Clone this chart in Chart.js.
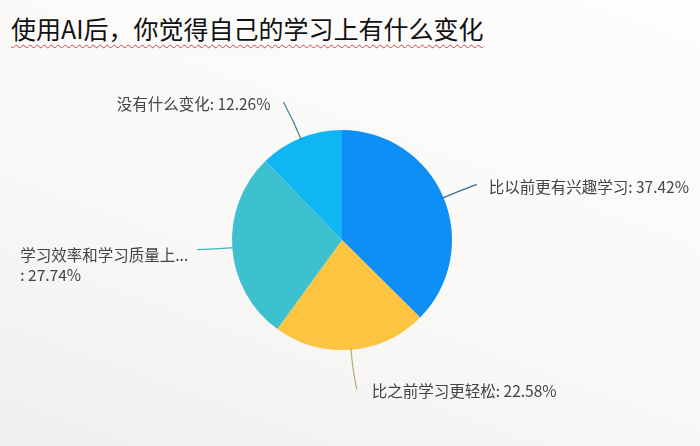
<!DOCTYPE html>
<html>
<head>
  <meta charset="UTF-8">
  <title>学习变化</title>
  <script src="https://cdn.jsdelivr.net/npm/chart.js@4.4.0/dist/chart.umd.min.js"></script>
</head>
<style>
  html, body { margin: 0; padding: 0; }
  body {
    width: 700px; height: 446px; overflow: hidden; position: relative;
    background: linear-gradient(200deg, #fdfdfc 0%, #f9f8f6 60%, #efefee 100%);
  }
  #title {
    position: absolute; left: 11px; top: 10px;
    font-family: "Noto Sans CJK SC", sans-serif; font-size: 25px; color: #111;
    text-decoration: underline wavy #d04040; text-decoration-thickness: 1px;
    text-underline-offset: 5px; letter-spacing: 0px; white-space: nowrap;
  }
  #wrap { position: absolute; left: 0; top: 0; width: 700px; height: 446px; }
</style>
<body>
  <div id="title">使用AI后，你觉得自己的学习上有什么变化</div>
  <div id="wrap"><canvas id="myChart"></canvas></div>

<script type="text/javascript">
  var categories = ['比以前更有兴趣学习', '比之前学习更轻松', '学习效率和学习质量上...', '没有什么变化'];
  var percents = [37.42, 22.58, 27.74, 12.26];

  var sliceColors = ['#0d8ff5', '#fcc440', '#3ec1cf', '#10b6f3'];
  var lineColors = ['#3a6a95', '#b8b070', '#3ab8c6', '#3d7f95'];
  // line end relative to the slice edge, then text offset from the line end
  var lineEnds = [[35, -14], [6, 42], [-37, 2], [-18, -38]];
  var textOffsets = [[12, 3], [15, 1], [-177, 5], [-13, 2]];
  var textAligns = ['left', 'left', 'left', 'right'];

  var labelPlugin = {
    id: 'pieLabels',
    afterDraw: function (chart) {
      var ctx = chart.ctx;
      var arcs = chart.getDatasetMeta(0).data;
      ctx.save();
      ctx.font = '15.5px "Noto Sans CJK SC", sans-serif';
      ctx.textBaseline = 'middle';
      for (var i = 0; i < arcs.length; i++) {
        var a = arcs[i];
        var mid = (a.startAngle + a.endAngle) / 2;
        var sx = a.x + Math.cos(mid) * (a.outerRadius - 2);
        var sy = a.y + Math.sin(mid) * (a.outerRadius - 2);
        var ex = sx + lineEnds[i][0];
        var ey = sy + lineEnds[i][1];
        var cx = a.x + Math.cos(mid) * (a.outerRadius + 18);
        var cy = a.y + Math.sin(mid) * (a.outerRadius + 18);
        ctx.strokeStyle = lineColors[i];
        ctx.lineWidth = 1.2;
        ctx.beginPath();
        ctx.moveTo(sx, sy);
        ctx.quadraticCurveTo(cx, cy, ex, ey);
        ctx.stroke();

        ctx.fillStyle = '#444444';
        ctx.textAlign = textAligns[i];
        var tx = ex + textOffsets[i][0];
        var ty = ey + textOffsets[i][1];
        var pct = percents[i].toFixed(2) + '%';
        if (i === 2) {
          ctx.fillText(categories[i], tx, ty);
          ctx.fillText(': ' + pct, tx, ty + 20);
        } else {
          ctx.fillText(categories[i] + ': ' + pct, tx, ty);
        }
      }
      ctx.restore();
    }
  };

  var myChart = new Chart(document.getElementById('myChart'), {
    type: 'pie',
    data: {
      labels: categories,
      datasets: [{
        data: percents,
        backgroundColor: sliceColors,
        borderWidth: 0
      }]
    },
    options: {
      responsive: true,
      maintainAspectRatio: false,
      animation: false,
      layout: { padding: { top: 130, bottom: 96, left: 232, right: 248 } },
      plugins: {
        legend: { display: false },
        tooltip: { enabled: false }
      }
    },
    plugins: [labelPlugin]
  });
</script>
</body>
</html>
